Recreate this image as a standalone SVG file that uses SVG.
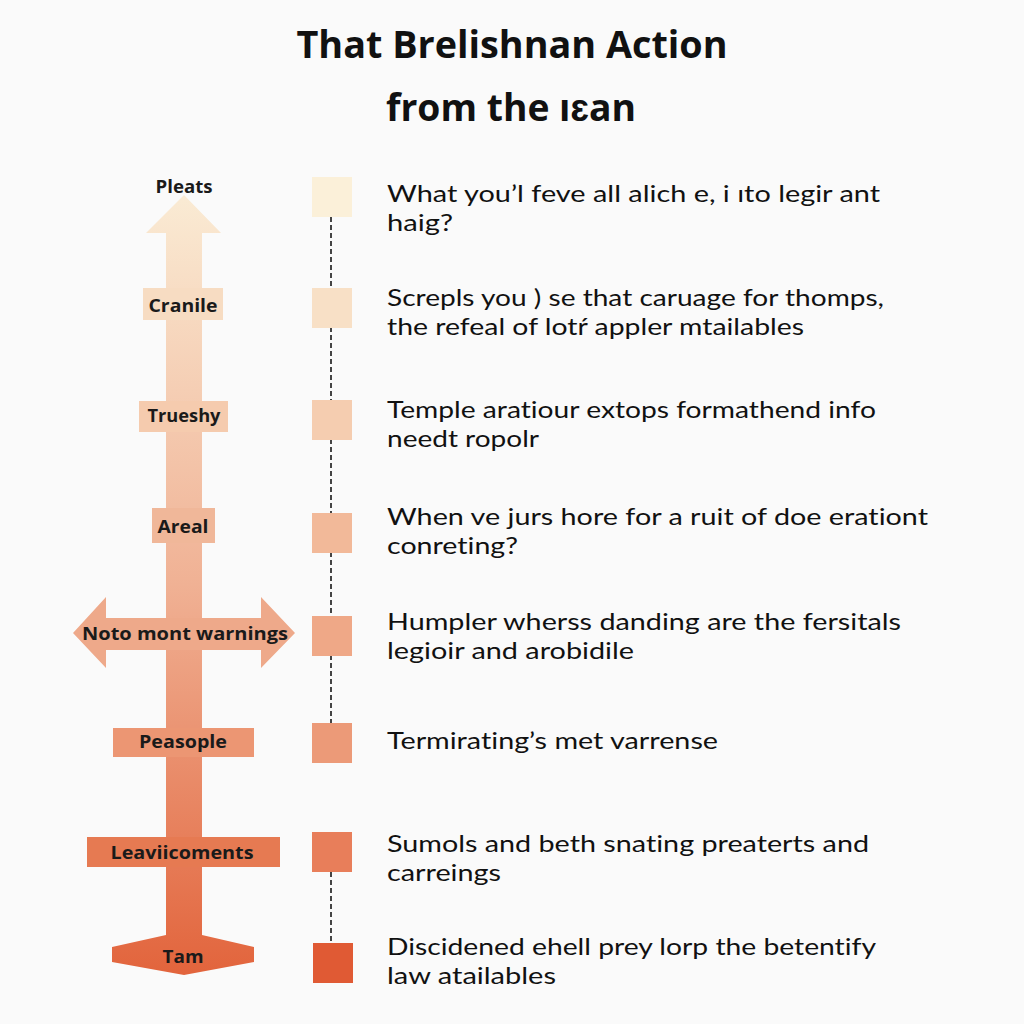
<svg xmlns="http://www.w3.org/2000/svg" width="1024" height="1024" viewBox="0 0 1024 1024">
<defs>
<linearGradient id="shaftGrad" gradientUnits="userSpaceOnUse" x1="0" y1="195" x2="0" y2="975">
<stop offset="0" stop-color="#faebd4"/>
<stop offset="0.5" stop-color="#f0b194"/>
<stop offset="1" stop-color="#e2643c"/>
</linearGradient>
<style>
.title{font-family:"Open Sans","Liberation Sans",sans-serif;font-weight:700;font-size:38px;fill:#111;text-anchor:middle}
.lbl{font-family:"Open Sans","Liberation Sans",sans-serif;font-weight:700;font-size:18px;fill:#1a1a1a;text-anchor:middle}
.desc{font-family:Lato,"Liberation Sans",sans-serif;font-size:24px;fill:#111;font-variant-ligatures:none;font-feature-settings:"liga" 0,"clig" 0}
.conn{stroke:#444;stroke-width:2;stroke-dasharray:5 3;fill:none}
</style>
</defs>
<rect width="1024" height="1024" fill="#fafafa"/>

<g id="title">
<text class="title" x="512" y="58" textLength="431" lengthAdjust="spacingAndGlyphs">That Brelishnan Action</text>
<text class="title" x="511" y="121" textLength="250" lengthAdjust="spacingAndGlyphs">from the ıɛan</text>
</g>

<g id="axis-arrow">
<polygon fill="url(#shaftGrad)" points="184,195 221,233 202,233 202,935 254,947 254,962 184,975 112,962 112,947 166,935 166,233 146,233"/>
<polygon fill="#eea98a" points="73,633 106,597 106,618 261,618 261,597 295,633 261,668 261,650 106,650 106,668"/>
</g>

<g id="connectors">
<line class="conn" x1="331" y1="217" x2="331" y2="288"/>
<line class="conn" x1="331" y1="327" x2="331" y2="400"/>
<line class="conn" x1="331" y1="439" x2="331" y2="513"/>
<line class="conn" x1="331" y1="552" x2="331" y2="616"/>
<line class="conn" x1="331" y1="655" x2="331" y2="723"/>
<line class="conn" x1="331" y1="872" x2="331" y2="943"/>
</g>

<g id="node-pleats">
<text class="lbl" x="184" y="193" textLength="57" lengthAdjust="spacingAndGlyphs">Pleats</text>
<rect x="312" y="177" width="40" height="40" fill="#fbf0d9"/>
<text class="desc" x="387" y="202" textLength="493" lengthAdjust="spacingAndGlyphs">What you’l feve all alich e, i ıto legir ant</text>
<text class="desc" x="387" y="231" textLength="66" lengthAdjust="spacingAndGlyphs">haig?</text>
</g>

<g id="node-cranile">
<rect x="143" y="288" width="80" height="32" fill="#f7dcc2"/>
<text class="lbl" x="183" y="312" textLength="69" lengthAdjust="spacingAndGlyphs">Cranile</text>
<rect x="312" y="288" width="40" height="40" fill="#f8e0c6"/>
<text class="desc" x="387" y="306" textLength="497" lengthAdjust="spacingAndGlyphs">Screpls you ) se that caruage for thomps,</text>
<text class="desc" x="387" y="335" textLength="417" lengthAdjust="spacingAndGlyphs">the refeal of lotŕ appler mtailables</text>
</g>

<g id="node-trueshy">
<rect x="139" y="401" width="89" height="31" fill="#f5cbae"/>
<text class="lbl" x="184" y="422" textLength="73" lengthAdjust="spacingAndGlyphs">Trueshy</text>
<rect x="312" y="400" width="40" height="40" fill="#f5cdb0"/>
<text class="desc" x="387" y="418" textLength="489" lengthAdjust="spacingAndGlyphs">Temple aratiour extops formathend info</text>
<text class="desc" x="387" y="447" textLength="152" lengthAdjust="spacingAndGlyphs">needt ropolr</text>
</g>

<g id="node-areal">
<rect x="152" y="508" width="63" height="35" fill="#f0b799"/>
<text class="lbl" x="183" y="533" textLength="51" lengthAdjust="spacingAndGlyphs">Areal</text>
<rect x="312" y="513" width="40" height="40" fill="#f2b999"/>
<text class="desc" x="387" y="525" textLength="541" lengthAdjust="spacingAndGlyphs">When ve jurs hore for a ruit of doe erationt</text>
<text class="desc" x="387" y="554" textLength="131" lengthAdjust="spacingAndGlyphs">conreting?</text>
</g>

<g id="node-noto">
<text class="lbl" x="185" y="640" textLength="206" lengthAdjust="spacingAndGlyphs">Noto mont warnings</text>
<rect x="312" y="616" width="40" height="40" fill="#efa887"/>
<text class="desc" x="387" y="630" textLength="514" lengthAdjust="spacingAndGlyphs">Humpler wherss danding are the fersitals</text>
<text class="desc" x="387" y="659" textLength="247" lengthAdjust="spacingAndGlyphs">legioir and arobidile</text>
</g>

<g id="node-peasople">
<rect x="113" y="728" width="141" height="29" fill="#ec9673"/>
<text class="lbl" x="183" y="748" textLength="88" lengthAdjust="spacingAndGlyphs">Peasople</text>
<rect x="312" y="723" width="40" height="40" fill="#ec9a78"/>
<text class="desc" x="387" y="749" textLength="331" lengthAdjust="spacingAndGlyphs">Termirating’s met varrense</text>
</g>

<g id="node-leaviicoments">
<rect x="87" y="837" width="193" height="30" fill="#e67a52"/>
<text class="lbl" x="182" y="859" textLength="143" lengthAdjust="spacingAndGlyphs">Leaviicoments</text>
<rect x="312" y="832" width="40" height="40" fill="#e87e5a"/>
<text class="desc" x="387" y="852" textLength="482" lengthAdjust="spacingAndGlyphs">Sumols and beth snating preaterts and</text>
<text class="desc" x="387" y="881" textLength="114" lengthAdjust="spacingAndGlyphs">carreings</text>
</g>

<g id="node-tam">
<text class="lbl" x="183" y="963" textLength="41" lengthAdjust="spacingAndGlyphs">Tam</text>
<rect x="313" y="943" width="40" height="40" fill="#e05a34"/>
<text class="desc" x="387" y="955" textLength="489" lengthAdjust="spacingAndGlyphs">Discidened ehell prey lorp the betentify</text>
<text class="desc" x="387" y="984" textLength="169" lengthAdjust="spacingAndGlyphs">law atailables</text>
</g>
</svg>
